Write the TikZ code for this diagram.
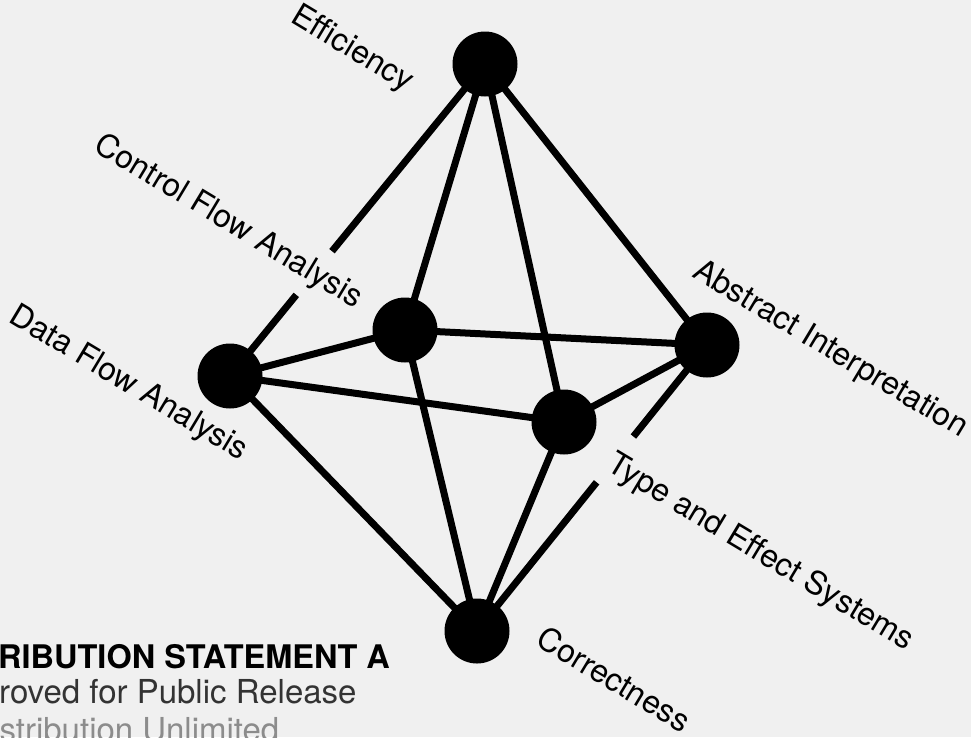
\documentclass[tikz,border=0pt]{standalone}
\usepackage{fontspec}
\setmainfont{TeX Gyre Heros}
\usetikzlibrary{calc}
\pgfdeclarelayer{bg}
\pgfsetlayers{bg,main}
\tikzset{
  ball/.style={circle, fill=black, minimum size=65pt, inner sep=0pt},
  edge/.style={line width=7pt, black},
  lbl/.style={inner sep=0pt, font=\fontsize{32}{38}\selectfont, rotate=-31},
  stmt/.style={inner sep=0pt, anchor=base west, font=\fontsize{33}{38}\selectfont}
}
\begin{document}
\begin{tikzpicture}[x=1pt,y=-1pt]
\begin{pgfonlayer}{bg}
\fill[black!6] (0,0) rectangle (971,737);
\end{pgfonlayer}
\useasboundingbox (0,0) rectangle (971,737);
% nodes
\node[ball] (T) at (485,64) {};
\node[ball] (L) at (230,376) {};
\node[ball] (CF) at (405,330) {};
\node[ball] (AI) at (707,345) {};
\node[ball] (TE) at (564,422) {};
\node[ball] (C) at (477,631) {};
% edges behind the balls
\begin{pgfonlayer}{bg}
\coordinate (g1) at ($(T)!0.60!(L)$);
\coordinate (g2) at ($(T)!0.74!(L)$);
\coordinate (g3) at ($(AI)!0.32!(C)$);
\coordinate (g4) at ($(AI)!0.48!(C)$);
\draw[edge] (T.center) -- (g1);
\draw[edge] (g2) -- (L.center);
\draw[edge] (T.center) -- (CF.center);
\draw[edge] (T.center) -- (TE.center);
\draw[edge] (T.center) -- (AI.center);
\draw[edge] (L.center) -- (CF.center);
\draw[edge] (CF.center) -- (AI.center);
\draw[edge] (AI.center) -- (TE.center);
\draw[edge] (TE.center) -- (L.center);
\draw[edge] (C.center) -- (L.center);
\draw[edge] (C.center) -- (CF.center);
\draw[edge] (C.center) -- (TE.center);
\draw[edge] (AI.center) -- (g3);
\draw[edge] (g4) -- (C.center);
\end{pgfonlayer}
% labels
\node[lbl] (lEff) at (352,50) {Efficiency};
\node[lbl] (lCFA) at (228,222) {Control Flow Analysis};
\node[lbl] (lDFA) at (128,384) {Data Flow Analysis};
\node[lbl] (lAI) at (830,350) {Abstract Interpretation};
\node[lbl] (lTES) at (760,553) {Type and Effect Systems};
\node[lbl] (lC) at (614,679) {Correctness};
% statement
\node[stmt, font=\fontsize{32.5}{38}\selectfont\bfseries] (s1) at (-2,668) {RIBUTION STATEMENT A};
\node[stmt, text=black!80] (s2) at (-1,703) {roved for Public Release};
\node[stmt, text=black!45] (s3) at (-8,741) {istribution Unlimited};
\end{tikzpicture}
\end{document}
